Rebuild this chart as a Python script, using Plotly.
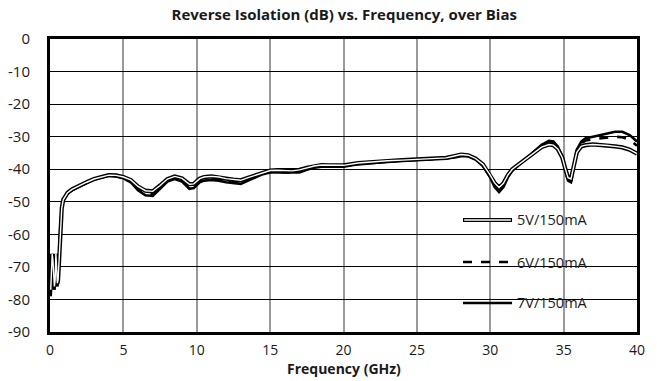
import plotly.graph_objects as go

freq = [0.05, 0.1, 0.15, 0.2, 0.25, 0.3, 0.35, 0.4, 0.45, 0.5, 0.55, 0.6, 0.7, 0.8, 0.9, 1.0,
        1.2, 1.5, 2.0, 2.5, 3.0, 3.5, 4.0, 4.5, 5.0, 5.5, 6.0, 6.5, 7.0, 7.5, 8.0, 8.5, 9.0,
        9.5, 9.8, 10.2, 10.5, 11.0, 11.5, 12.0, 12.5, 13.0, 13.5, 14.0, 14.5, 15.0, 15.5, 16.0,
        16.5, 17.0, 17.5, 18.0, 18.5, 19.0, 20.0, 21.0, 22.0, 23.0, 24.0, 25.0, 26.0, 27.0,
        27.5, 28.0, 28.5, 29.0, 29.5, 30.0, 30.3, 30.6, 30.9, 31.2, 31.5, 32.0, 32.5, 33.0,
        33.5, 34.0, 34.3, 34.6, 34.9, 35.1, 35.3, 35.5, 35.7, 35.9, 36.2, 36.5, 37.0, 37.5,
        38.0, 38.5, 39.0, 39.5, 40.0]

iso_7v = [-79, -72, -67, -70, -75, -77, -72, -68, -72, -76, -75, -68, -58, -52, -49.5, -48.8,
          -47.5, -46.5, -45.3, -44.2, -43.2, -42.5, -42.0, -42.2, -42.8, -44.0, -46.5, -48.0,
          -48.2, -46.0, -43.8, -43.0, -43.8, -46.0, -45.8, -44.0, -43.5, -43.3, -43.5, -44.0,
          -44.3, -44.5, -43.5, -42.5, -41.5, -41.0, -41.0, -41.0, -41.2, -41.0, -40.2, -39.5,
          -39.2, -39.2, -39.2, -38.5, -38.0, -37.7, -37.4, -37.2, -37.0, -36.8, -36.5, -36.0,
          -36.0, -37.0, -39.0, -42.5, -45.5, -47.0, -45.5, -42.5, -40.5, -38.5, -36.5, -34.5,
          -32.5, -31.3, -31.5, -33.0, -36.0, -40.0, -43.5, -44.0, -39.0, -34.0, -31.5, -30.5,
          -30.0, -29.5, -29.0, -28.5, -28.5, -29.5, -31.5]

iso_6v = [-78, -71, -66, -69, -74, -77, -73, -67, -71, -76, -75, -69, -59, -52, -49.5, -48.7,
          -47.4, -46.4, -45.2, -44.1, -43.1, -42.4, -41.9, -42.1, -42.6, -43.7, -46.0, -47.4,
          -47.6, -45.6, -43.5, -42.7, -43.4, -45.5, -45.3, -43.6, -43.1, -42.9, -43.1, -43.6,
          -43.9, -44.1, -43.2, -42.2, -41.3, -40.8, -40.8, -40.8, -41.0, -40.7, -40.0, -39.3,
          -39.0, -39.0, -39.0, -38.3, -37.9, -37.6, -37.3, -37.1, -36.9, -36.7, -36.3, -35.8,
          -35.9, -36.9, -38.8, -42.2, -45.0, -46.5, -45.0, -42.2, -40.3, -38.4, -36.5, -34.6,
          -32.7, -31.6, -31.8, -33.2, -36.0, -39.8, -43.2, -43.6, -38.8, -34.2, -32.0, -31.2,
          -30.8, -30.5, -30.2, -30.0, -30.2, -31.0, -32.8]

iso_5v = [-77, -70, -66, -68, -73, -76, -74, -66, -70, -75, -74, -70, -60, -52, -49.4, -48.5,
          -47.2, -46.2, -45.0, -44.0, -43.0, -42.3, -41.8, -41.9, -42.4, -43.3, -45.3, -46.6,
          -46.8, -45.0, -43.0, -42.2, -42.8, -44.6, -44.5, -42.9, -42.4, -42.2, -42.4, -42.9,
          -43.2, -43.4, -42.6, -41.8, -41.0, -40.4, -40.3, -40.3, -40.5, -40.2, -39.6, -39.0,
          -38.7, -38.8, -38.8, -38.1, -37.7, -37.4, -37.2, -37.0, -36.8, -36.5, -36.0, -35.5,
          -35.7, -36.7, -38.5, -41.8, -44.2, -45.6, -44.3, -41.8, -40.0, -38.3, -36.6, -34.9,
          -33.2, -32.4, -32.6, -33.8, -36.3, -39.6, -42.6, -43.0, -38.7, -34.8, -33.0, -32.6,
          -32.4, -32.5, -32.7, -33.0, -33.3, -34.0, -35.2]

series_names = ["5V/150mA", "6V/150mA", "7V/150mA"]
x_ticks = [0, 5, 10, 15, 20, 25, 30, 35, 40]
y_ticks = [0, -10, -20, -30, -40, -50, -60, -70, -80, -90]

FONT = "Open Sans"
TXT = "#1a1a1a"

fig = go.Figure()
fig.add_trace(go.Scatter(x=freq, y=iso_7v, mode="lines", name=series_names[2],
                         line=dict(color="black", width=2.6), showlegend=False))
fig.add_trace(go.Scatter(x=freq, y=iso_6v, mode="lines", name=series_names[1],
                         line=dict(color="black", width=2.6, dash="dash"), showlegend=False))
fig.add_trace(go.Scatter(x=freq, y=iso_5v, mode="lines", name=series_names[0] + " outline",
                         line=dict(color="black", width=4.2), showlegend=False, hoverinfo="skip"))
fig.add_trace(go.Scatter(x=freq, y=iso_5v, mode="lines", name=series_names[0],
                         line=dict(color="white", width=1.4), showlegend=False))

# Manual legend (paper coordinates)
fig.add_shape(type="rect", xref="paper", yref="paper", x0=0.6865, x1=0.9319, y0=0.05, y1=0.4505,
              fillcolor="white", line=dict(width=0), layer="between")
leg_y = [0.3823, 0.2389, 0.0990]
lx0, lx1, tx = 0.7036, 0.7871, 0.7930
fig.add_shape(type="line", xref="paper", yref="paper", x0=lx0, x1=lx1, y0=leg_y[0], y1=leg_y[0],
              line=dict(color="black", width=4.2))
fig.add_shape(type="line", xref="paper", yref="paper", x0=lx0 + 0.002, x1=lx1 - 0.002, y0=leg_y[0], y1=leg_y[0],
              line=dict(color="white", width=1.4))
fig.add_shape(type="line", xref="paper", yref="paper", x0=lx0, x1=lx1, y0=leg_y[1], y1=leg_y[1],
              line=dict(color="black", width=2.6, dash="dash"))
fig.add_shape(type="line", xref="paper", yref="paper", x0=lx0, x1=lx1, y0=leg_y[2], y1=leg_y[2],
              line=dict(color="black", width=2.6))
for name, yy in zip(series_names, leg_y):
    fig.add_annotation(x=tx, y=yy, xref="paper", yref="paper", text=name, showarrow=False,
                       xanchor="left", yanchor="middle", font=dict(family=FONT, size=14.5, color=TXT))

# x-axis title placed at the bottom edge
fig.add_annotation(x=0.5, y=-0.1638, xref="paper", yref="paper", text="<b>Frequency (GHz)</b>",
                   showarrow=False, xanchor="center", yanchor="bottom",
                   font=dict(family=FONT, size=14, color=TXT))

fig.update_layout(
    width=657, height=381,
    margin=dict(l=50, r=20, t=39, b=49),
    paper_bgcolor="white", plot_bgcolor="white",
    title=dict(text="<b>Reverse Isolation (dB) vs. Frequency, over Bias</b>", x=0.524, xanchor="center",
               y=0.96, yanchor="middle", font=dict(family=FONT, size=15, color=TXT)),
    font=dict(family=FONT, color=TXT),
    showlegend=False,
)
fig.update_xaxes(range=[0, 40], tickvals=x_ticks, ticktext=[str(v) for v in x_ticks],
                 showgrid=True, gridcolor="#9a9a9a", gridwidth=1.5,
                 showline=True, linecolor="black", linewidth=3, mirror=True,
                 ticks="inside", ticklen=6, tickcolor="#9a9a9a", tickwidth=1.5,
                 tickfont=dict(family=FONT, size=14, color=TXT), ticklabelstandoff=3,
                 zeroline=False, automargin=False)
fig.update_yaxes(range=[-90, 0], tickvals=y_ticks, ticktext=[str(v) for v in y_ticks],
                 showgrid=True, gridcolor="black", gridwidth=1.2,
                 showline=True, linecolor="black", linewidth=3, mirror=True,
                 ticks="", tickfont=dict(family=FONT, size=15, color=TXT), ticklabelstandoff=14,
                 zeroline=False, automargin=False)

fig.write_html("out.html")
